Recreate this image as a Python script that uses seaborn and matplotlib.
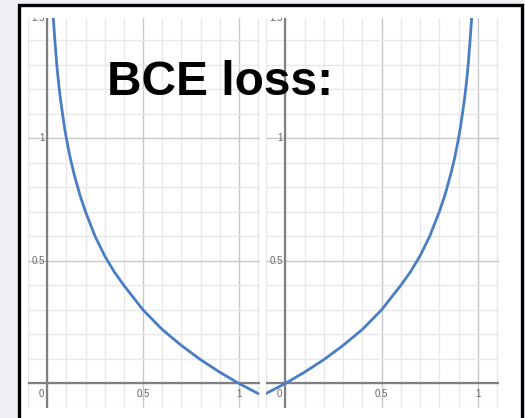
import matplotlib
matplotlib.use('Agg')
import matplotlib.pyplot as plt
import seaborn as sns
import pandas as pd
from matplotlib.ticker import MultipleLocator
from matplotlib.patches import Rectangle

# points
left_x = [0.028, 0.032, 0.04, 0.05, 0.06, 0.07, 0.08, 0.09, 0.10, 0.12, 0.14, 0.17, 0.20, 0.25, 0.30,
          0.35, 0.40, 0.50, 0.60, 0.70, 0.80, 0.90, 1.00, 1.10]
left_y = [1.55, 1.49, 1.40, 1.30, 1.22, 1.155, 1.10, 1.045, 1.00, 0.92, 0.855, 0.77, 0.70, 0.60, 0.52,
          0.455, 0.40, 0.30, 0.22, 0.155, 0.097, 0.046, 0.0, -0.041]
right_x = [-0.10, 0.00, 0.10, 0.20, 0.30, 0.40, 0.50, 0.60, 0.65, 0.70, 0.75, 0.80, 0.83, 0.86, 0.88,
           0.90, 0.91, 0.92, 0.93, 0.94, 0.95, 0.96, 0.968, 0.972]
right_y = [-0.041, 0.0, 0.046, 0.097, 0.155, 0.22, 0.30, 0.40, 0.455, 0.52, 0.60, 0.70, 0.77, 0.855, 0.92,
           1.00, 1.045, 1.10, 1.155, 1.22, 1.30, 1.40, 1.49, 1.55]

x_tick_labels = ['0', '0.5', '1']
x_tick_pos = [0, 0.5, 1]
y_tick_labels = ['0.5', '1', '1.5']
y_tick_pos = [0.5, 1, 1.49]
title = 'BCE loss:'

sns.set_theme(style='white')
plt.rcParams['font.family'] = ['Liberation Sans', 'DejaVu Sans']

fig = plt.figure(figsize=(5.25, 4.18), dpi=100)
fig.patch.set_facecolor('#eef0f3')

# white card with black frame
fig.patches.append(Rectangle((19/525, -0.05), 503/525, 1.05 - 5/418, transform=fig.transFigure,
                             facecolor='white', edgecolor='black', linewidth=2.4, zorder=-1))

ax1 = fig.add_axes([28/525, 10/418, 232/525, 390/418])
ax2 = fig.add_axes([266/525, 10/418, 233/525, 390/418])

for ax, xs, ys in [(ax1, left_x, left_y), (ax2, right_x, right_y)]:
    ax.set_facecolor('white')
    ax.set_xlim(-0.1, 1.11)
    ax.set_ylim(-0.1, 1.49)
    ax.xaxis.set_major_locator(MultipleLocator(0.5))
    ax.xaxis.set_minor_locator(MultipleLocator(0.1))
    ax.yaxis.set_major_locator(MultipleLocator(0.5))
    ax.yaxis.set_minor_locator(MultipleLocator(0.1))
    ax.grid(which='minor', color='#e8e8e8', linewidth=1.0)
    ax.grid(which='major', color='#c8c8c8', linewidth=1.0)
    ax.tick_params(which='both', length=0, labelbottom=False, labelleft=False)
    for s in ax.spines.values():
        s.set_visible(False)
    ax.axhline(0, color='#808080', linewidth=1.6, zorder=2)
    ax.axvline(0, color='#808080', linewidth=1.6, zorder=2)

    df = pd.DataFrame({'x': xs, 'y': ys})
    sns.lineplot(data=df, x='x', y='y', ax=ax, color='#4a7ec4', linewidth=2.0, sort=False, zorder=3)
    ax.set_xlabel('')
    ax.set_ylabel('')

    for lab, pos in zip(x_tick_labels, x_tick_pos):
        if pos == 0:
            ax.text(-0.03, -0.022, lab, ha='center', va='top', fontsize=7, color='#666666', zorder=4)
        else:
            ax.text(pos, -0.022, lab, ha='center', va='top', fontsize=7, color='#666666', zorder=4)
    for lab, pos in zip(y_tick_labels, y_tick_pos):
        ax.text(-0.012, pos, lab, ha='right', va='center', fontsize=7, color='#666666', zorder=4,
                clip_on=True)

fig.text(107/525, 1 - 95/418, title, fontsize=34.5, fontweight='bold', color='black',
         ha='left', va='baseline', zorder=10)

fig.savefig('out.png', dpi=100, facecolor=fig.get_facecolor())
